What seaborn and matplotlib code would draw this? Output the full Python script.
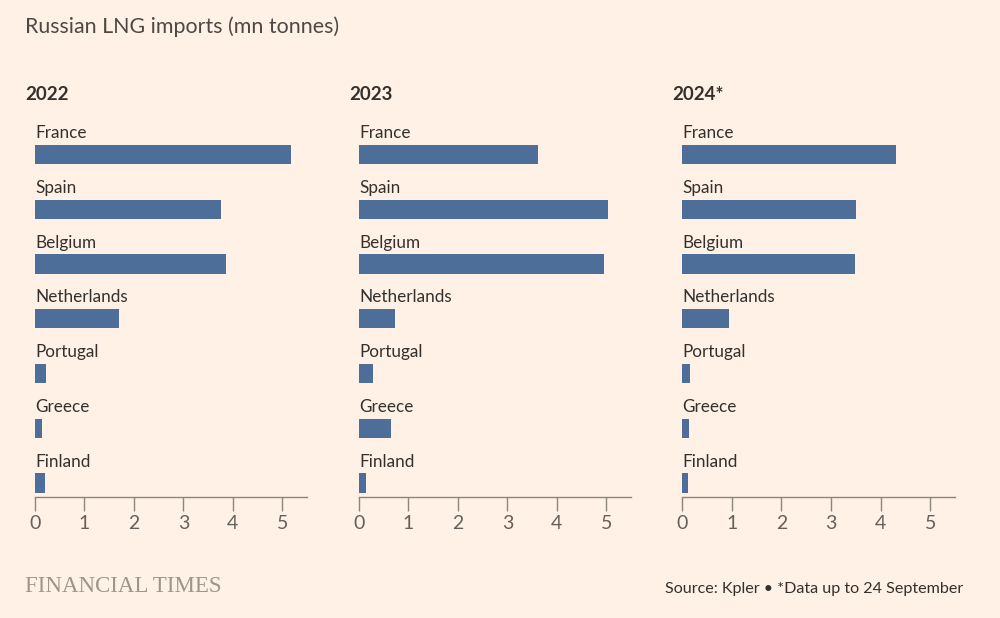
import matplotlib
matplotlib.use("Agg")
import matplotlib.pyplot as plt
import seaborn as sns
import pandas as pd

countries = ["France", "Spain", "Belgium", "Netherlands", "Portugal", "Greece", "Finland"]
years = ["2022", "2023", "2024*"]
values_2022 = [5.18, 3.77, 3.87, 1.70, 0.22, 0.14, 0.20]
values_2023 = [3.62, 5.04, 4.96, 0.73, 0.28, 0.65, 0.14]
values_2024 = [4.31, 3.50, 3.48, 0.95, 0.16, 0.14, 0.12]
xticks = [0, 1, 2, 3, 4, 5]

title = "Russian LNG imports (mn tonnes)"
source = "Source: Kpler \u2022 *Data up to 24 September"

BG = "#FFF1E5"
BAR = "#4E6E9A"
TEXT = "#33302E"
AXIS = "#8C857E"

sns.set_theme(style="white")
plt.rcParams["font.family"] = ["Lato", "DejaVu Sans"]

fig = plt.figure(figsize=(10, 6.18), dpi=100)
fig.patch.set_facecolor(BG)

W, H = 1000, 618
panels = [(35, 307), (359, 631), (682, 955)]
top_px, bot_px = 120, 497
series = [values_2022, values_2023, values_2024]

for (l, r), yr, vals in zip(panels, years, series):
    ax = fig.add_axes([l / W, 1 - bot_px / H, (r - l) / W, (bot_px - top_px) / H])
    ax.set_facecolor(BG)
    df = pd.DataFrame({"country": countries, "value": vals})
    sns.barplot(data=df, x="value", y="country", ax=ax, color=BAR,
                orient="h", width=0.35, saturation=1, linewidth=0)
    ax.set_xlim(0, 5.5)
    ax.set_ylim(6.256, -0.63)
    ax.set_ylabel("")
    ax.set_xlabel("")
    ax.set_yticks([])
    ax.set_xticks(xticks)
    ax.set_xticklabels([str(t) for t in xticks], fontsize=14, color="#66605C")
    ax.tick_params(axis="x", length=10, width=1, color=AXIS, pad=3, direction="out", bottom=True)
    for s in ["top", "right", "left"]:
        ax.spines[s].set_visible(False)
    ax.spines["bottom"].set_color(AXIS)
    ax.spines["bottom"].set_linewidth(1)
    for i, c in enumerate(countries):
        ax.text(0, i - 0.39, c, fontsize=12.3, color=TEXT, va="center", ha="left")
    fig.text((l - 10) / W, 1 - 95 / H, yr, fontsize=13.5, fontweight="bold",
             color=TEXT, va="center", ha="left")

fig.text(25 / W, 1 - 27 / H, title, fontsize=15.4, color="#4D4845", va="center", ha="left")
fig.text(25 / W, 1 - 586 / H, "FINANCIAL TIMES", fontsize=16.5, color="#9E958B",
         family=["Liberation Serif", "DejaVu Serif"], va="center", ha="left")
fig.text(963 / W, 1 - 589 / H, source, fontsize=11.6, color=TEXT, va="center", ha="right")

fig.savefig("out.png", dpi=100, facecolor=BG)
